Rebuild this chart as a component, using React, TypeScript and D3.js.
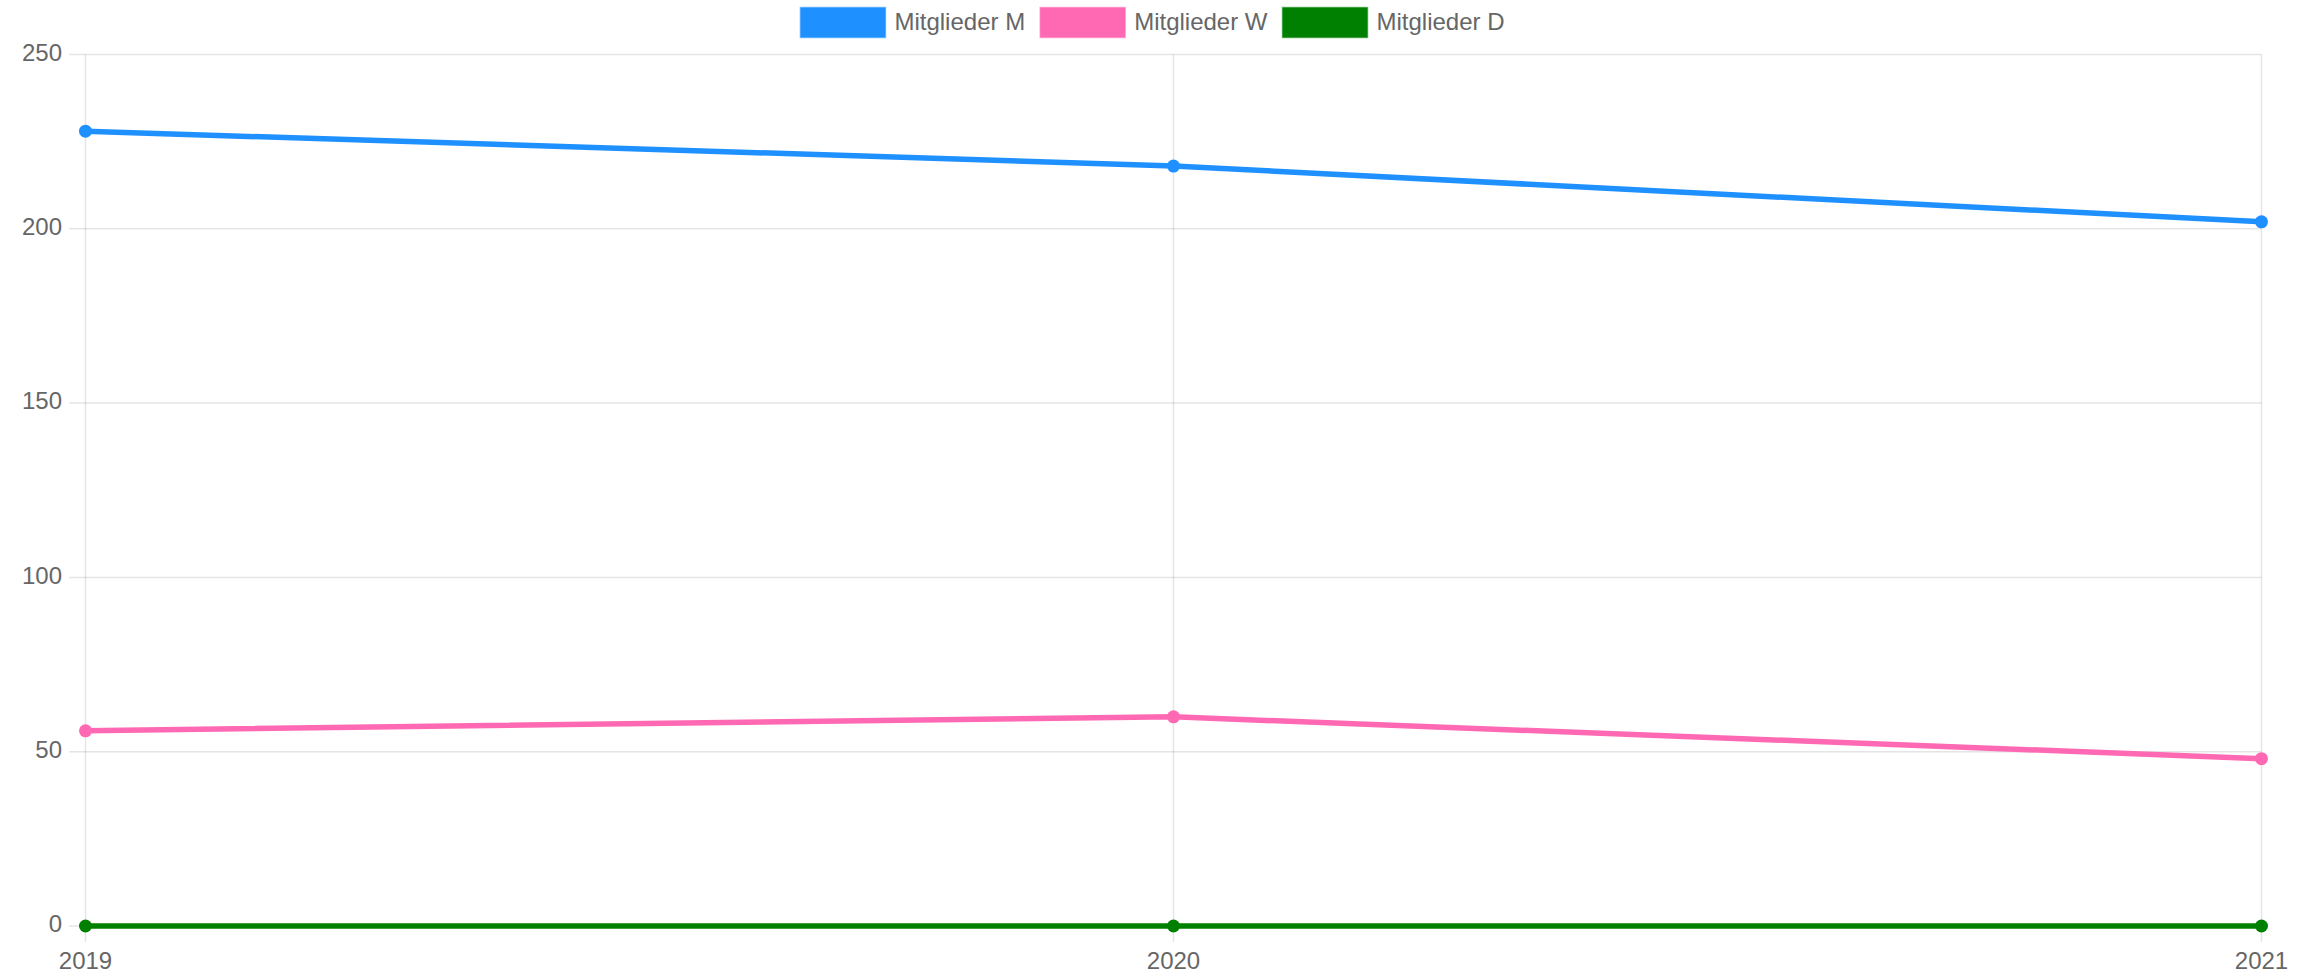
import React from "react";
import * as d3 from "d3";

const years = ["2019", "2020", "2021"];
const mitgliederM = [228, 218, 202];
const mitgliederW = [56, 60, 48];
const mitgliederD = [0, 0, 0];
const yTicks = [0, 50, 100, 150, 200, 250];
const seriesNames = ["Mitglieder M", "Mitglieder W", "Mitglieder D"];
const seriesColors = ["#1E90FF", "#FF69B4", "#008000"];

const W = 2315;
const H = 977;
const FONT = "'Liberation Sans', Arial, Helvetica, sans-serif";

function measure(text: string, size: number) {
  const c = document.createElement("canvas").getContext("2d");
  if (!c) return text.length * size * 0.5;
  c.font = `${size}px ${FONT}`;
  return c.measureText(text).width;
}

export default function App() {
  const x = d3.scalePoint<string>().domain(years).range([85.5, 2261.5]);
  const y = d3.scaleLinear().domain([0, 250]).range([926, 54.5]);
  const allSeries = [mitgliederM, mitgliederW, mitgliederD];
  const line = d3
    .line<number>()
    .x((_, i) => x(years[i]) as number)
    .y((d) => y(d));

  const legendFont = 24;
  const boxW = 85;
  const boxH = 30;
  const textGap = 9;
  const itemGap = 15;
  const widths = seriesNames.map((n) => boxW + textGap + measure(n, legendFont));
  const total = widths.reduce((a, b) => a + b, 0) + itemGap * (widths.length - 1);
  let lx = 1152.5 - total / 2;
  const legendItems = seriesNames.map((n, i) => {
    const item = { name: n, x: lx, color: seriesColors[i] };
    lx += widths[i] + itemGap;
    return item;
  });

  const grid = "rgba(0,0,0,0.1)";

  return (
    <svg
      width={W}
      height={H}
      style={{ position: "absolute", left: 0, top: 0, background: "#fff" }}
      fontFamily={FONT}
    >
      {yTicks.map((t) => (
        <g key={"y" + t}>
          <line x1={69} x2={2261.5} y1={y(t)} y2={y(t)} stroke={grid} strokeWidth={1.5} />
          <text x={62} y={y(t)} textAnchor="end" dominantBaseline="middle" fontSize={24} fill="#666">
            {t}
          </text>
        </g>
      ))}
      {years.map((yr) => (
        <g key={"x" + yr}>
          <line x1={x(yr)} x2={x(yr)} y1={54.5} y2={942} stroke={grid} strokeWidth={1.5} />
          <text x={x(yr)} y={969} textAnchor="middle" fontSize={24} fill="#666">
            {yr}
          </text>
        </g>
      ))}
      {allSeries.map((s, i) => (
        <g key={"s" + i}>
          <path d={line(s) || ""} fill="none" stroke={seriesColors[i]} strokeWidth={5.5} />
          {s.map((v, j) => (
            <circle key={j} cx={x(years[j])} cy={y(v)} r={6.5} fill={seriesColors[i]} />
          ))}
        </g>
      ))}
      {legendItems.map((it) => (
        <g key={it.name}>
          <rect x={it.x} y={7.5} width={boxW} height={boxH} fill={it.color} stroke={it.color} strokeOpacity={0.5} strokeWidth={1.5} />
          <text x={it.x + boxW + textGap} y={23.5} dominantBaseline="middle" fontSize={legendFont} fill="#666">
            {it.name}
          </text>
        </g>
      ))}
    </svg>
  );
}
